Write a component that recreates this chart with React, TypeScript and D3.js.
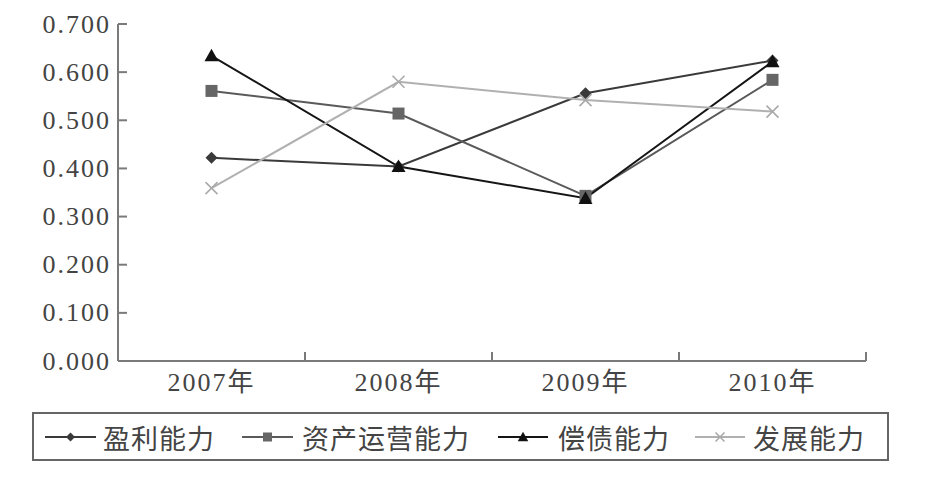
import React from "react";
import * as d3 from "d3";

const years = ["2007年", "2008年", "2009年", "2010年"];
const yTicks = [0, 0.1, 0.2, 0.3, 0.4, 0.5, 0.6, 0.7];
const profit = [0.422, 0.404, 0.556, 0.624];
const operation = [0.561, 0.514, 0.343, 0.584];
const solvency = [0.634, 0.404, 0.338, 0.622];
const growth = [0.359, 0.58, 0.542, 0.518];

const seriesNames = ["盈利能力", "资产运营能力", "偿债能力", "发展能力"];

const series = [
  { name: seriesNames[0], values: profit, line: "#3a3a3a", fill: "#3a3a3a", marker: "diamond" },
  { name: seriesNames[1], values: operation, line: "#5a5a5a", fill: "#666", marker: "square" },
  { name: seriesNames[2], values: solvency, line: "#151515", fill: "#111", marker: "triangle" },
  { name: seriesNames[3], values: growth, line: "#b0b0b0", fill: "#aaa", marker: "x" },
];

const W = 937, H = 491;
const left = 118, right = 866, top = 24, bottom = 361;

function Marker({ kind, x, y, color, s = 1 }: { kind: string; x: number; y: number; color: string; s?: number }) {
  if (kind === "diamond") {
    const r = 6 * s;
    return <path d={`M${x},${y - r}L${x + r},${y}L${x},${y + r}L${x - r},${y}Z`} fill={color} />;
  }
  if (kind === "square") {
    const r = 6 * s;
    return <rect x={x - r} y={y - r} width={2 * r} height={2 * r} fill={color} />;
  }
  if (kind === "triangle") {
    const r = 7 * s;
    return <path d={`M${x},${y - r}L${x + r},${y + r * 0.8}L${x - r},${y + r * 0.8}Z`} fill={color} />;
  }
  const r = 6 * s;
  return (
    <g stroke={color} strokeWidth={1.6}>
      <line x1={x - r} y1={y - r} x2={x + r} y2={y + r} />
      <line x1={x - r} y1={y + r} x2={x + r} y2={y - r} />
    </g>
  );
}

export default function App() {
  const x = d3.scaleBand<string>().domain(years).range([left, right]).padding(0);
  const y = d3.scaleLinear().domain([0, 0.7]).range([bottom, top]);
  const cx = (i: number) => (x(years[i]) as number) + x.bandwidth() / 2;
  const line = d3
    .line<number>()
    .x((_, i) => cx(i))
    .y((v) => y(v));
  const axisColor = "#7a7a7a";
  const textColor = "#444";
  const numFont = "'Liberation Serif', 'Noto Sans CJK SC', serif";
  const cjkFont = "'Noto Sans CJK SC', sans-serif";

  const legendItems = [
    { x0: 45, x1: 96, tx: 103 },
    { x0: 242, x1: 293, tx: 302 },
    { x0: 498, x1: 548, tx: 558 },
    { x0: 695, x1: 745, tx: 753 },
  ];
  const ly = 437;

  return (
    <svg width={W} height={H} style={{ position: "absolute", left: 0, top: 0, background: "#fff" }}>
      <rect x={0} y={0} width={W} height={H} fill="#fff" />
      {/* axes */}
      <line x1={left} y1={top} x2={left} y2={bottom} stroke={axisColor} strokeWidth={2} />
      <line x1={left} y1={bottom} x2={right} y2={bottom} stroke={axisColor} strokeWidth={2} />
      {yTicks.map((t) => (
        <g key={t}>
          <line x1={left} x2={left + 9} y1={y(t)} y2={y(t)} stroke={axisColor} strokeWidth={2} />
          <text
            x={111}
            y={y(t)}
            textAnchor="end"
            dominantBaseline="central"
            fontFamily={numFont}
            fontSize={26}
            letterSpacing={2}
            fill={textColor}
          >
            {d3.format(".3f")(t)}
          </text>
        </g>
      ))}
      {years.map((yr, i) => (
        <g key={yr}>
          <line
            x1={(x(yr) as number) + x.bandwidth()}
            x2={(x(yr) as number) + x.bandwidth()}
            y1={bottom}
            y2={bottom - 9}
            stroke={axisColor}
            strokeWidth={2}
          />
          <text x={cx(i)} y={391} textAnchor="middle" fontFamily={numFont} fontSize={26} letterSpacing={2} fill={textColor}>
            {yr}
          </text>
        </g>
      ))}
      {/* lines */}
      {series.map((s) => (
        <path key={s.name} d={line(s.values) || ""} fill="none" stroke={s.line} strokeWidth={2} />
      ))}
      {series.map((s) =>
        s.values.map((v, i) => <Marker key={s.name + i} kind={s.marker} x={cx(i)} y={y(v)} color={s.fill} />)
      )}
      {/* legend */}
      <rect x={33} y={413} width={855} height={47} fill="#fff" stroke="#666" strokeWidth={2} />
      {series.map((s, i) => {
        const it = legendItems[i];
        return (
          <g key={s.name}>
            <line x1={it.x0} x2={it.x1} y1={ly} y2={ly} stroke={s.line} strokeWidth={2} />
            <Marker kind={s.marker} x={(it.x0 + it.x1) / 2} y={ly} color={s.fill} s={0.75} />
            <text x={it.tx} y={ly} dominantBaseline="central" fontFamily={cjkFont} fontSize={27} letterSpacing={1} fill={textColor}>
              {s.name}
            </text>
          </g>
        );
      })}
    </svg>
  );
}
